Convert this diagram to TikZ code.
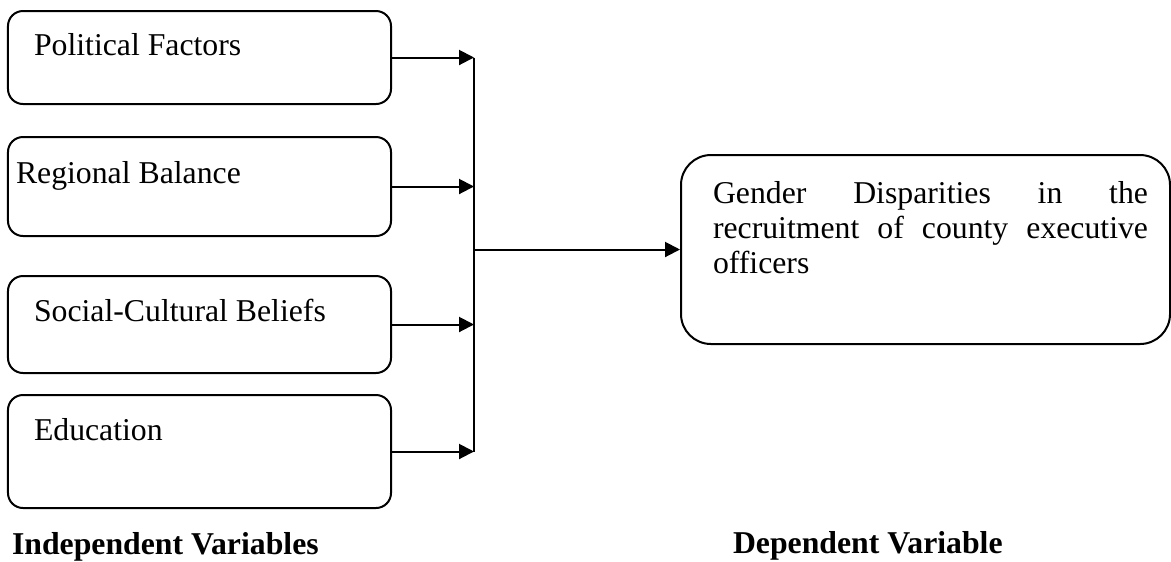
\documentclass[tikz,border=0pt]{standalone}
\usepackage{fontspec}
\setmainfont{Liberation Serif}
\usepackage{tikz}
\usetikzlibrary{arrows.meta, positioning}

\begin{document}
\begin{tikzpicture}[x=0.4pt, y=-0.4pt, line width=0.8pt,
        factor/.style={draw, rounded corners=6pt, minimum width=153.2pt, inner sep=0pt},
        txt/.style={font=\fontsize{12.7}{14}\selectfont, inner sep=0pt},
        head/.style={font=\fontsize{12.7}{14}\selectfont\bfseries, inner sep=0pt},
        link/.style={-{Triangle[length=6pt, width=6pt]}}]
        \useasboundingbox (0,0) rectangle (1171,561);

        % independent variables
        \node[factor, minimum height=37.2pt] (p1) at (199.5,57.5) {};
        \node[factor, minimum height=39.6pt] (p2) at (199.5,186.5) {};
        \node[factor, minimum height=38.8pt] (p3) at (199.5,324.5) {};
        \node[factor, minimum height=45.2pt] (p4) at (199.5,451.5) {};
        \node[txt, anchor=base west] (t1) at (33,55) {Political Factors};
        \node[txt, anchor=base west] (t2) at (15,183) {Regional Balance};
        \node[txt, anchor=base west] (t3) at (33,321) {Social-Cultural Beliefs};
        \node[txt, anchor=base west] (t4) at (33,440) {Education};

        % dependent variable
        \node[draw, rounded corners=12pt, minimum width=195.6pt, minimum height=75.6pt] (g) at (925.5,249.5) {};
        \node[txt, anchor=base west, text width=174pt, align=justify] (tg) at (712,203)
            {\hyphenpenalty=10000 Gender Disparities in the\linebreak
             recruitment of county executive\linebreak officers};

        \coordinate (top) at (474,57.5);
        \coordinate (bot) at (474,451.5);
        \coordinate (mid) at (474,249.5);

        \draw (top) -- (bot);
        \foreach \n in {p1,p2,p3,p4}
            \draw[link] (\n.east) -- (top |- \n.east);
        \draw[link] (mid) -- (g.west);

        \node[head, anchor=base west] (iv) at (11,554) {Independent Variables};
        \node[head, anchor=base west] (dv) at (732,553) {Dependent Variable};
    \end{tikzpicture}
\end{document}
